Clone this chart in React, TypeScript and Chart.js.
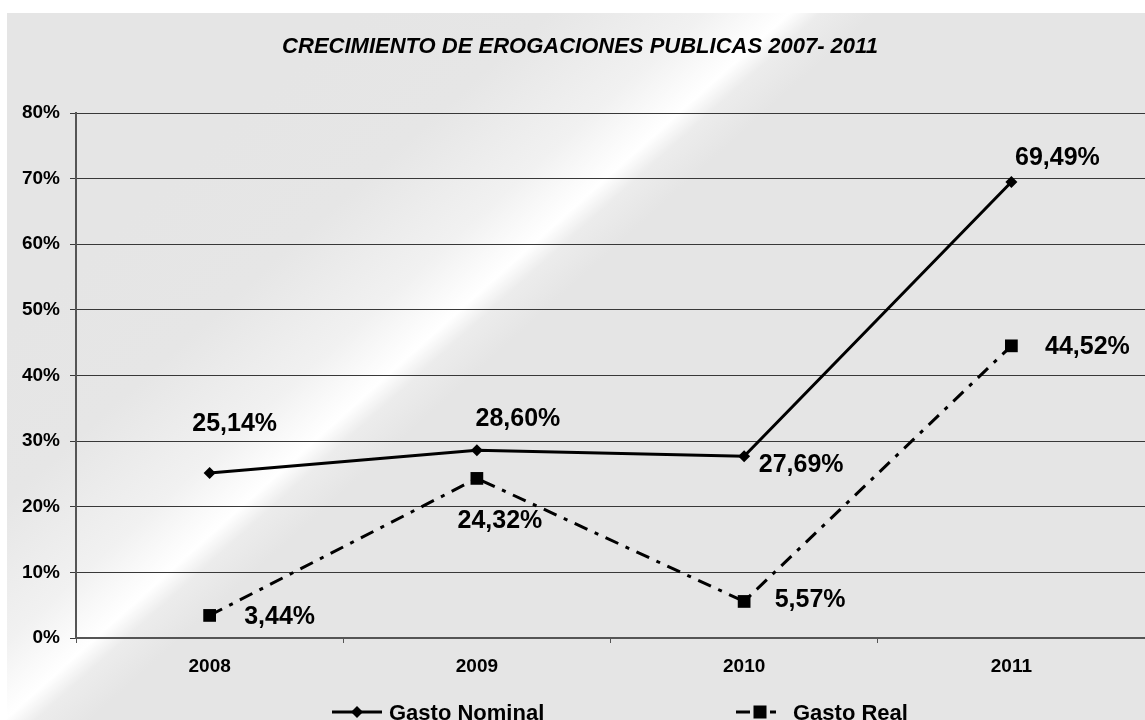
import React, { useEffect, useRef } from "react";
import { Chart, registerables } from "chart.js";

Chart.register(...registerables);

const categories = ["2008", "2009", "2010", "2011"];
const gastoNominal = [25.14, 28.6, 27.69, 69.49];
const gastoReal = [3.44, 24.32, 5.57, 44.52];
const yMin = 0;
const yMax = 80;
const yStep = 10;
const titleText = "CRECIMIENTO DE EROGACIONES PUBLICAS 2007- 2011";
const seriesNames = ["Gasto Nominal", "Gasto Real"];

const FONT = "'Liberation Sans', Arial, Helvetica, sans-serif";
const DASH_DOT = [14, 8, 4, 8];

// label placement (pixel offsets from each point) per series
const labelOffsets = [
  [[25, -49], [41, -31], [57, 9], [46, -24]],
  [[70, 2], [23, 43], [66, -1], [76, 1]],
];

const fmt = (v: number) => v.toFixed(2).replace(".", ",") + "%";

const backgroundPlugin = {
  id: "bgGradient",
  beforeDraw(chart: any) {
    const { ctx, width, height } = chart;
    ctx.save();
    ctx.fillStyle = "#ffffff";
    ctx.fillRect(0, 0, width, height);
    // diagonal light streak
    const cx = 280, cy = 430;
    const nx = 0.669, ny = 0.743;
    const d = 260;
    const g = ctx.createLinearGradient(cx - d * nx, cy - d * ny, cx + d * nx, cy + d * ny);
    g.addColorStop(0, "#e5e5e5");
    g.addColorStop(0.25, "#e6e6e6");
    g.addColorStop(0.45, "#f1f1f1");
    g.addColorStop(0.56, "#ffffff");
    g.addColorStop(0.6, "#ececec");
    g.addColorStop(0.67, "#e5e5e5");
    g.addColorStop(1, "#e5e5e5");
    ctx.fillStyle = g;
    ctx.fillRect(7, 13, width - 7, height - 13);
    ctx.restore();
  },
};

const dataLabelPlugin = {
  id: "valueLabels",
  afterDatasetsDraw(chart: any) {
    const { ctx } = chart;
    ctx.save();
    ctx.font = `bold 25px ${FONT}`;
    ctx.fillStyle = "#000000";
    ctx.textAlign = "center";
    ctx.textBaseline = "middle";
    chart.data.datasets.forEach((ds: any, di: number) => {
      const meta = chart.getDatasetMeta(di);
      meta.data.forEach((pt: any, i: number) => {
        const off = labelOffsets[di][i];
        ctx.fillText(fmt(ds.data[i]), pt.x + off[0], pt.y + off[1]);
      });
    });
    ctx.restore();
  },
};

const legendPlugin = {
  id: "customLegend",
  afterDraw(chart: any) {
    const { ctx } = chart;
    const y = 712;
    ctx.save();
    ctx.strokeStyle = "#000";
    ctx.fillStyle = "#000";
    ctx.lineWidth = 3;
    // item 1
    ctx.beginPath();
    ctx.moveTo(332, y);
    ctx.lineTo(382, y);
    ctx.stroke();
    ctx.beginPath();
    ctx.moveTo(357, y - 6);
    ctx.lineTo(363, y);
    ctx.lineTo(357, y + 6);
    ctx.lineTo(351, y);
    ctx.closePath();
    ctx.fill();
    // item 2
    ctx.setLineDash(DASH_DOT);
    ctx.beginPath();
    ctx.moveTo(736, y);
    ctx.lineTo(776, y);
    ctx.stroke();
    ctx.setLineDash([]);
    ctx.fillRect(760 - 6.5, y - 6.5, 13, 13);
    ctx.font = `bold 22px ${FONT}`;
    ctx.textAlign = "left";
    ctx.textBaseline = "alphabetic";
    ctx.fillText(seriesNames[0], 389, 720);
    ctx.fillText(seriesNames[1], 793, 720);
    ctx.restore();
  },
};

export default function App() {
  const ref = useRef<HTMLCanvasElement | null>(null);

  useEffect(() => {
    document.body.style.margin = "0";
    document.body.style.overflow = "hidden";
    const canvas = ref.current;
    if (!canvas) return;
    const chart = new Chart(canvas, {
      type: "line",
      data: {
        labels: categories,
        datasets: [
          {
            label: seriesNames[0],
            data: gastoNominal,
            borderColor: "#000000",
            backgroundColor: "#000000",
            borderWidth: 3,
            pointStyle: "rectRot",
            pointRadius: 6,
            pointHoverRadius: 6,
            pointBackgroundColor: "#000000",
            pointBorderWidth: 0,
            tension: 0,
            fill: false,
          },
          {
            label: seriesNames[1],
            data: gastoReal,
            borderColor: "#000000",
            backgroundColor: "#000000",
            borderWidth: 3,
            borderDash: DASH_DOT,
            pointStyle: "rect",
            pointRadius: 9,
            pointHoverRadius: 9,
            pointBackgroundColor: "#000000",
            pointBorderWidth: 0,
            tension: 0,
            fill: false,
          },
        ],
      },
      options: {
        animation: false,
        responsive: true,
        maintainAspectRatio: false,
        layout: { autoPadding: false, padding: { left: 15, right: 0, top: 0, bottom: 0 } },
        plugins: {
          legend: { display: false },
          tooltip: { enabled: false },
          title: {
            display: true,
            text: titleText,
            color: "#000000",
            font: { family: FONT, size: 22, weight: "bold", style: "italic" },
            padding: { top: 34, bottom: 52.6 },
          },
        },
        scales: {
          x: {
            offset: true,
            grid: {
              display: true,
              drawOnChartArea: false,
              drawTicks: true,
              tickLength: 5,
              color: "#555555",
              offset: true,
            },
            border: { display: true, color: "#555555", width: 2 },
            ticks: {
              color: "#000000",
              font: { family: FONT, size: 19, weight: "bold" },
              padding: 12,
              maxRotation: 0,
            },
            afterFit(scale: any) {
              scale.height = 82;
              scale.paddingLeft = 0;
              scale.paddingRight = 0;
            },
          },
          y: {
            min: yMin,
            max: yMax,
            grid: {
              color: "#383838",
              lineWidth: 1,
              drawTicks: true,
              tickLength: 6,
            },
            border: { display: true, color: "#555555", width: 2 },
            ticks: {
              stepSize: yStep,
              color: "#000000",
              font: { family: FONT, size: 19, weight: "bold" },
              padding: 10,
              callback: (v: any) => v + "%",
            },
            afterFit(scale: any) {
              scale.width = 61;
            },
          },
        },
      },
      plugins: [backgroundPlugin, dataLabelPlugin, legendPlugin],
    });
    return () => chart.destroy();
  }, []);

  return (
    <div style={{ position: "fixed", left: 0, top: 0, width: 1145, height: 720 }}>
      <canvas ref={ref} />
    </div>
  );
}
